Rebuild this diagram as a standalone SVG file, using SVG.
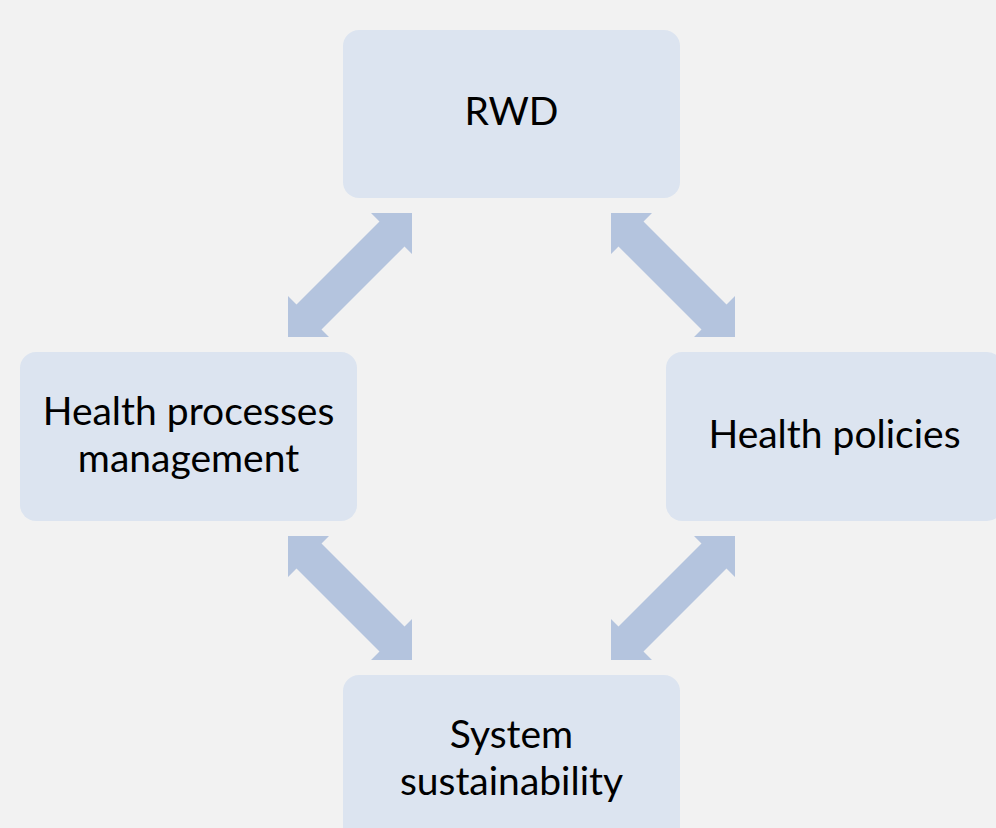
<svg xmlns="http://www.w3.org/2000/svg" width="996" height="828" viewBox="0 0 996 828">
  <style>
    .box { fill: #DCE4F0; }
    .lbl { font-family: Lato, "Liberation Sans", sans-serif; font-size: 39px; fill: #000; text-anchor: middle; }
    .arr { fill: #B4C4DE; }
  </style>
  <defs>
    <polygon id="dblarrow" points="412,213 412,254 404.5,246.5 321.5,329.5 329,337 288,337 288,296 296.5,304.5 379.5,221.5 371,213"/>
  </defs>
  <rect width="996" height="828" fill="#F2F2F2"/>
  <g id="connectors" class="arr">
    <use href="#dblarrow"/>
    <use href="#dblarrow" transform="translate(1023,0) scale(-1,1)"/>
    <use href="#dblarrow" transform="translate(0,873) scale(1,-1)"/>
    <use href="#dblarrow" transform="translate(1023,873) scale(-1,-1)"/>
  </g>
  <g id="node-rwd">
    <rect class="box" x="343" y="30" width="337" height="168" rx="16"/>
    <text class="lbl" x="511.5" y="125">RWD</text>
  </g>
  <g id="node-processes">
    <rect class="box" x="20" y="352" width="337" height="169" rx="16"/>
    <text class="lbl" x="188.5" y="425">Health processes</text>
    <text class="lbl" x="188.5" y="472">management</text>
  </g>
  <g id="node-policies">
    <rect class="box" x="666" y="352" width="337" height="169" rx="16"/>
    <text class="lbl" x="834.5" y="448">Health policies</text>
  </g>
  <g id="node-sustainability">
    <rect class="box" x="343" y="675" width="337" height="168" rx="16"/>
    <text class="lbl" x="511.5" y="748">System</text>
    <text class="lbl" x="511.5" y="795">sustainability</text>
  </g>
</svg>
